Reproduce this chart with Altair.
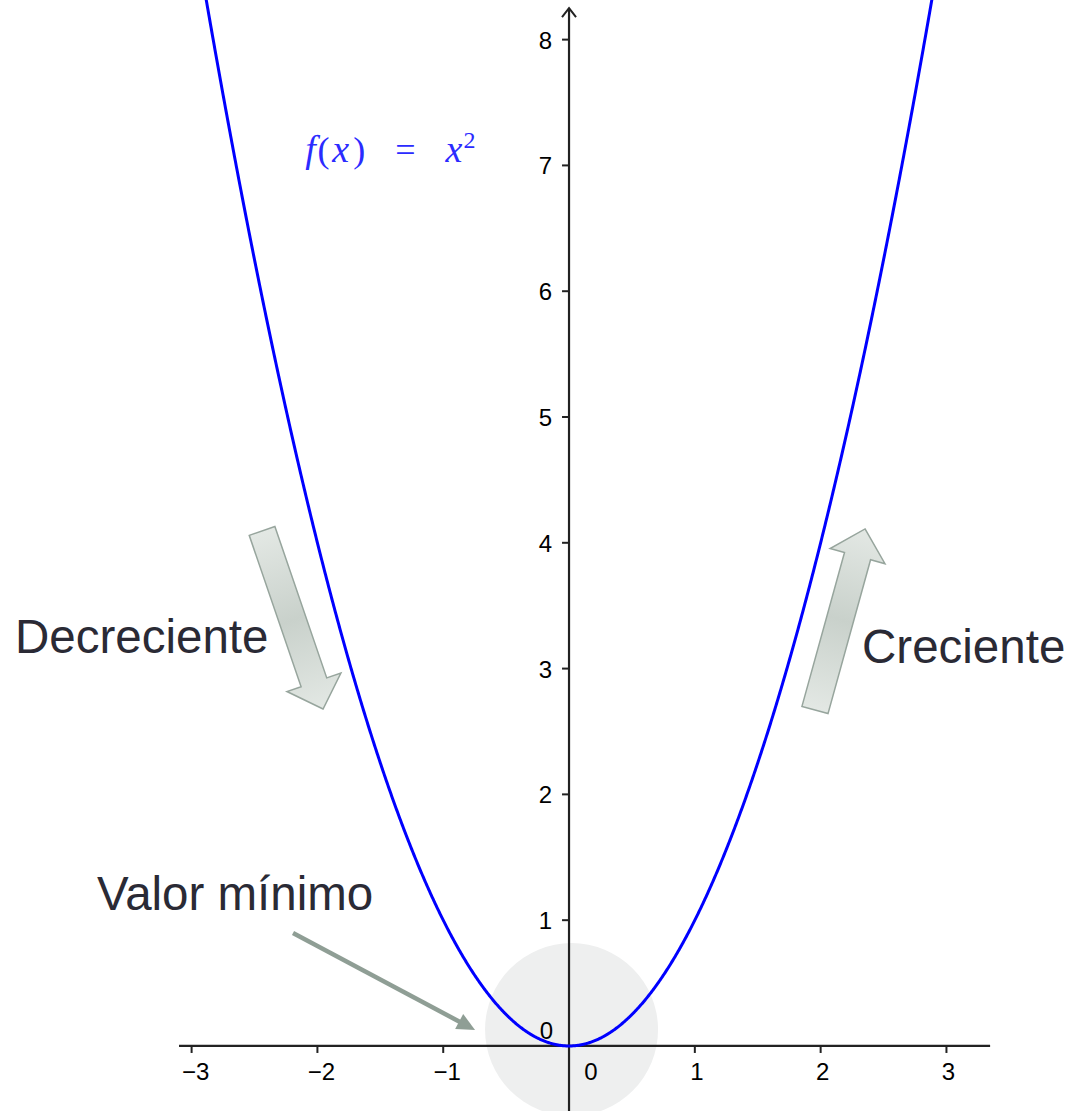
import math
import altair as alt
import pandas as pd

# ---- frame (data units shown across the canvas) ----
W, H = 1071, 1111
X_DOM = [-4.523, 3.990]
Y_DOM = [-0.517, 8.315]
PX = W / (X_DOM[1] - X_DOM[0])  # pixels per data unit

# ---- axes ----
x_axis_span = [-3.10, 3.347]
y_axis_span = [-0.52, 8.25]
x_ticks = [-3, -2, -1, 1, 2, 3]
x_label_neg = [-3, -2, -1]
x_label_neg_txt = ["−3", "−2", "−1"]
x_label_pos = [1, 2, 3]
x_label_pos_txt = ["1", "2", "3"]
y_ticks = [1, 2, 3, 4, 5, 6, 7, 8]
y_label_txt = ["1", "2", "3", "4", "5", "6", "7", "8"]
origin_txt = "0"

# ---- function f(x) = x^2 ----
curve_start, curve_stop, curve_step = -2.95, 2.951, 0.005

# ---- highlighted minimum ----
min_center = [0.02, 0.13]
min_diameter_px = 173

# ---- wide arrows (tail -> tip) ----
fat_tail_x = [-2.440, 1.955]
fat_tail_y = [4.094, 2.671]
fat_tip_x = [-1.955, 2.353]
fat_tip_y = [2.679, 4.110]

# ---- pointer towards the minimum ----
ptr_start = [-2.194, 0.898]
ptr_tip = [-0.747, 0.127]
ptr_head_px = 18

# ---- annotations ----
note_txt = ["Decreciente", "Creciente", "Valor mínimo"]
note_x = [-4.404, 2.329, -3.752]
note_y = [3.124, 3.045, 1.081]

# formula pieces: f(x) = x^2
f_italic_txt = ["f", "x", "x"]
f_italic_x = [-2.055, -1.815, -0.914]
f_upright_txt = ["(", ")", "="]
f_upright_x = [-1.951, -1.668, -1.300]
f_base_y = 7.027
f_sup_txt = ["2"]
f_sup_x = [-0.792]
f_sup_y = 7.138

xs = alt.Scale(domain=X_DOM, nice=False, zero=False)
ys = alt.Scale(domain=Y_DOM, nice=False, zero=False)


def X(f="x"):
    return alt.X(f"{f}:Q", scale=xs, axis=None)


def Y(f="y"):
    return alt.Y(f"{f}:Q", scale=ys, axis=None)


AXIS_COL = "#222222"
LABEL_FONT = "Liberation Sans"
TICK_FONT = 24

# grey disc around the minimum
disc = alt.Chart(pd.DataFrame({"x": [min_center[0]], "y": [min_center[1]]})).mark_point(
    filled=True, shape="circle", color="#eeefef", opacity=1, strokeWidth=0,
    size=min_diameter_px ** 2,
).encode(x=X(), y=Y())

# axis lines
x_axis = alt.Chart(pd.DataFrame({"x": [x_axis_span[0]], "x2": [x_axis_span[1]], "y": [0]})).mark_rule(
    color=AXIS_COL, strokeWidth=2.2
).encode(x=X(), x2="x2:Q", y=Y())
y_axis = alt.Chart(pd.DataFrame({"x": [0], "y": [y_axis_span[0]], "y2": [y_axis_span[1]]})).mark_rule(
    color=AXIS_COL, strokeWidth=2.2
).encode(x=X(), y=Y(), y2="y2:Q")

# open arrowhead on top of the vertical axis
chevron = alt.Chart(pd.DataFrame({"x": [0], "y": [y_axis_span[1]]})).mark_point(
    shape="M -0.78 1 L 0 0 L 0.78 1", filled=False, color=AXIS_COL, strokeWidth=2,
    size=324, opacity=1,
).encode(x=X(), y=Y())

tick_len = 7 / PX
x_tick_marks = alt.Chart(pd.DataFrame({"x": x_ticks, "y": [0] * len(x_ticks),
                                       "y2": [-tick_len] * len(x_ticks)})).mark_rule(
    color=AXIS_COL, strokeWidth=2
).encode(x=X(), y=Y(), y2="y2:Q")
y_tick_marks = alt.Chart(pd.DataFrame({"x": [0] * len(y_ticks), "x2": [-tick_len] * len(y_ticks),
                                       "y": y_ticks})).mark_rule(
    color=AXIS_COL, strokeWidth=2
).encode(x=X(), x2="x2:Q", y=Y())


def x_label_layer(pos, txt, dx):
    return alt.Chart(pd.DataFrame({"x": pos, "y": [0] * len(pos), "t": txt})).mark_text(
        font=LABEL_FONT, fontSize=TICK_FONT, color="#000000", baseline="middle",
        align="center", dy=27, dx=dx
    ).encode(x=X(), y=Y(), text="t:N")


x_labels_neg = x_label_layer(x_label_neg, x_label_neg_txt, 4)
x_labels_pos = x_label_layer(x_label_pos, x_label_pos_txt, 2)
x_label_zero = x_label_layer([0], [origin_txt], 22)

y_labels = alt.Chart(pd.DataFrame({"x": [0] * len(y_ticks), "y": y_ticks, "t": y_label_txt})).mark_text(
    font=LABEL_FONT, fontSize=TICK_FONT, color="#000000", baseline="middle", align="right",
    dx=-17, dy=2
).encode(x=X(), y=Y(), text="t:N")
y_label_zero = alt.Chart(pd.DataFrame({"x": [0], "y": [0], "t": [origin_txt]})).mark_text(
    font=LABEL_FONT, fontSize=TICK_FONT, color="#000000", baseline="middle", align="right",
    dx=-16, dy=-14
).encode(x=X(), y=Y(), text="t:N")

# the parabola
curve = alt.Chart(alt.sequence(curve_start, curve_stop, curve_step, as_="x")).transform_calculate(
    y="datum.x * datum.x"
).mark_line(color="#0000ff", strokeWidth=3, clip=True).encode(x=X(), y=Y())

# wide arrows: centre, length and rotation from tail/tip
fat_rows = []
for tx, ty, px_, py_ in zip(fat_tail_x, fat_tail_y, fat_tip_x, fat_tip_y):
    dx, dy = px_ - tx, py_ - ty
    length_px = math.hypot(dx, dy) * PX
    ang = math.degrees(math.atan2(dx, dy)) % 360
    fat_rows.append({"x": (tx + px_) / 2, "y": (ty + py_) / 2,
                     "size": length_px ** 2, "angle": ang})
FAT_SHAPE = ("M 0 -1 L 0.303 -0.70 L 0.144 -0.70 L 0.144 1 L -0.144 1 "
             "L -0.144 -0.70 L -0.303 -0.70 Z")
fat_arrows = alt.Chart(pd.DataFrame(fat_rows)).mark_point(
    shape=FAT_SHAPE, filled=True, opacity=1, stroke="#97a59d", strokeWidth=1.5,
    fill=alt.Gradient(gradient="linear", x1=0, y1=0, x2=0, y2=1, stops=[
        alt.GradientStop(offset=0, color="#e3e8e4"),
        alt.GradientStop(offset=0.5, color="#c9d1cb"),
        alt.GradientStop(offset=1, color="#e3e8e4"),
    ]),
).encode(x=X(), y=Y(), size=alt.Size("size:Q", scale=None),
         angle=alt.Angle("angle:Q", scale=None))

# thin pointer with a solid head
pdx, pdy = ptr_tip[0] - ptr_start[0], ptr_tip[1] - ptr_start[1]
plen = math.hypot(pdx, pdy)
ux, uy = pdx / plen, pdy / plen
head_u = ptr_head_px / PX
ptr_line = alt.Chart(pd.DataFrame({
    "x": [ptr_start[0]], "y": [ptr_start[1]],
    "x2": [ptr_tip[0] - ux * head_u * 0.8], "y2": [ptr_tip[1] - uy * head_u * 0.8],
})).mark_rule(color="#8f9e95", strokeWidth=4.5).encode(x=X(), y=Y(), x2="x2:Q", y2="y2:Q")
ptr_head = alt.Chart(pd.DataFrame({
    "x": [ptr_tip[0] - ux * head_u / 2], "y": [ptr_tip[1] - uy * head_u / 2],
    "angle": [math.degrees(math.atan2(pdx, pdy)) % 360],
})).mark_point(
    shape="M 0 -1 L 0.95 1 L -0.95 1 Z", filled=True, color="#8f9e95", opacity=1,
    size=ptr_head_px ** 2,
).encode(x=X(), y=Y(), angle=alt.Angle("angle:Q", scale=None))

notes = alt.Chart(pd.DataFrame({"x": note_x, "y": note_y, "t": note_txt})).mark_text(
    font=LABEL_FONT, fontSize=47.5, color="#2a2a35", align="left", baseline="alphabetic"
).encode(x=X(), y=Y(), text="t:N")

FORMULA_FONT = "Liberation Serif"
FORMULA_COL = "#2b2bff"
f_italic = alt.Chart(pd.DataFrame({"x": f_italic_x, "y": [f_base_y] * 3, "t": f_italic_txt})).mark_text(
    font=FORMULA_FONT, fontStyle="italic", fontSize=38, color=FORMULA_COL,
    align="center", baseline="alphabetic"
).encode(x=X(), y=Y(), text="t:N")
f_upright = alt.Chart(pd.DataFrame({"x": f_upright_x, "y": [f_base_y] * 3, "t": f_upright_txt})).mark_text(
    font=FORMULA_FONT, fontSize=36, color=FORMULA_COL, align="center", baseline="alphabetic"
).encode(x=X(), y=Y(), text="t:N")
f_sup = alt.Chart(pd.DataFrame({"x": f_sup_x, "y": [f_sup_y], "t": f_sup_txt})).mark_text(
    font=FORMULA_FONT, fontSize=24, color=FORMULA_COL, align="center", baseline="alphabetic"
).encode(x=X(), y=Y(), text="t:N")

chart = alt.layer(
    disc, x_axis, y_axis, chevron, x_tick_marks, y_tick_marks,
    x_labels_neg, x_labels_pos, x_label_zero, y_labels, y_label_zero,
    curve, fat_arrows, ptr_line, ptr_head, notes, f_italic, f_upright, f_sup,
).properties(
    width=W, height=H, padding=0, autosize="none", background="white"
).configure_view(stroke=None)

chart.save("out.html", embed_options={"renderer": "svg", "actions": False})
